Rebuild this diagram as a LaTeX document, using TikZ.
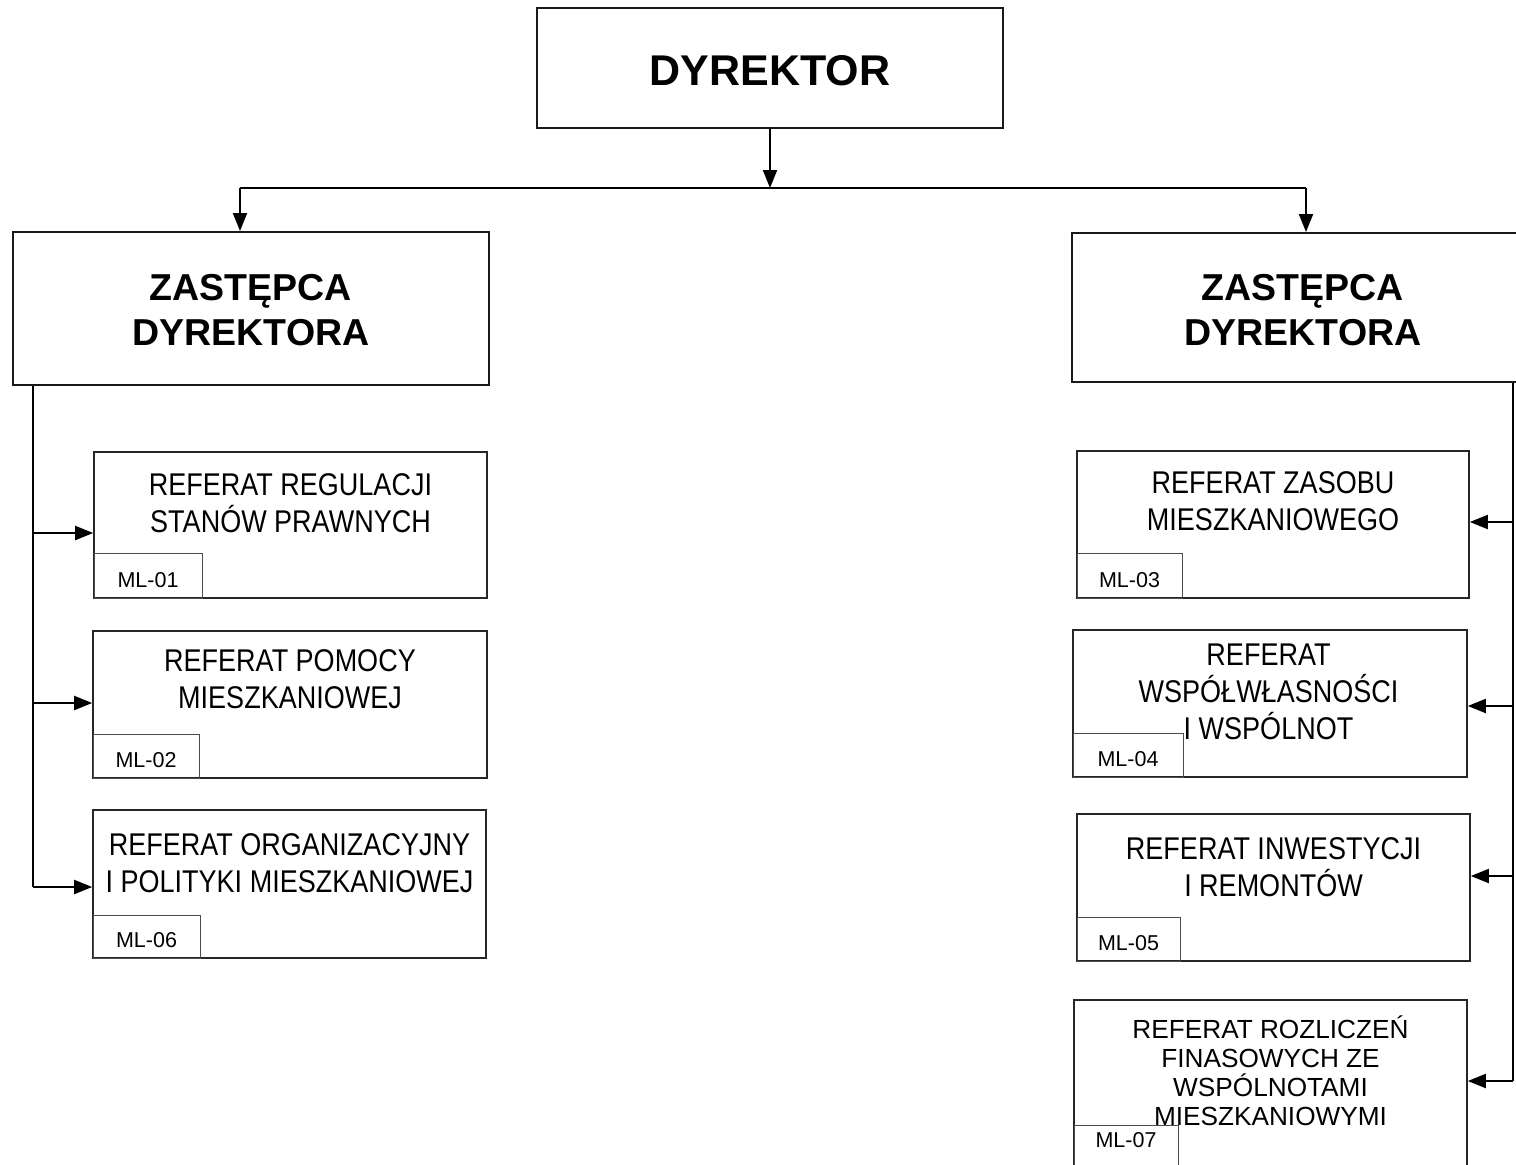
\documentclass[tikz,border=0pt]{standalone}
\usepackage{fontspec}
\setmainfont{Liberation Sans}
\newfontfamily\narrowfont[FakeStretch=0.86]{Liberation Sans}
\usetikzlibrary{arrows.meta,fit,calc}
\newcommand\st{\vrule height 1em depth 1em width 0pt\relax}
\newcommand\tightls{\lineskiplimit=-100pt\relax}
\newcommand\bfont{\bfseries\fontsize{37.5}{45}\selectfont\tightls}
\newcommand\nfont{\narrowfont\fontsize{31.4}{37}\selectfont\tightls}
\newcommand\pfont{\fontsize{26.2}{29}\selectfont\tightls}
\tikzset{
  conn/.style={line width=2pt, draw=black},
  arr/.style={conn, -{Triangle[length=18pt,width=14pt]}},
  topbox/.style={draw=black!90, line width=2.4pt, inner sep=0pt},
  zbox/.style={draw=black!90, line width=2pt, inner sep=0pt},
  rbox/.style={draw=black!85, line width=1.6pt, inner sep=0pt},
  sbox/.style={draw=black!70, line width=1pt, inner sep=0pt},
  mltxt/.style={inner sep=0pt, anchor=base, font={\fontsize{21.5}{23}\selectfont}},
  btxt/.style={inner sep=0pt, align=center, font={\bfont}},
  ntxt/.style={inner sep=0pt, align=center, font={\nfont}},
  ptxt/.style={inner sep=0pt, align=center, font={\pfont}},
}
\begin{document}
\begin{tikzpicture}[x=1pt,y=1pt]
\useasboundingbox (0,0) rectangle (1516,-1165);
\clip (0,0) rectangle (1516,-1165);
\fill[white] (0,0) rectangle (1516,-1165);

% boxes
\node[topbox, fit={(537,-8) (1003,-128)}] (d) {};
\node[zbox, fit={(13,-232) (489,-385)}] (z1) {};
\node[zbox, fit={(1072,-233) (1540,-382)}] (z2) {};

\node[rbox, fit={(94,-452) (487,-598)}] (m1) {};
\node[rbox, fit={(93,-631) (487,-778)}] (m2) {};
\node[rbox, fit={(93,-810) (486,-958)}] (m6) {};
\node[rbox, fit={(1077,-451) (1469,-598)}] (m3) {};
\node[rbox, fit={(1073,-630) (1467,-777)}] (m4) {};
\node[rbox, fit={(1077,-814) (1470,-961)}] (m5) {};
\node[rbox, fit={(1074,-1000) (1467,-1171)}] (m7) {};

\node[sbox, fit={(94,-553) (202,-598)}] (s1) {};
\node[sbox, fit={(93,-734) (199,-778)}] (s2) {};
\node[sbox, fit={(93,-915) (200,-958)}] (s6) {};
\node[sbox, fit={(1077,-553) (1182,-598)}] (s3) {};
\node[sbox, fit={(1073,-733) (1183,-777)}] (s4) {};
\node[sbox, fit={(1077,-917) (1180,-961)}] (s5) {};
\node[sbox, fit={(1074,-1125) (1178,-1171)}] (s7) {};

\node[mltxt] (l1) at ([yshift=11pt]s1.south) {ML-01};
\node[mltxt] (l2) at ([yshift=11pt]s2.south) {ML-02};
\node[mltxt] (l6) at ([yshift=11pt]s6.south) {ML-06};
\node[mltxt] (l3) at ([yshift=11pt]s3.south) {ML-03};
\node[mltxt] (l4) at ([yshift=11pt]s4.south) {ML-04};
\node[mltxt] (l5) at ([yshift=11pt]s5.south) {ML-05};
\node[mltxt] (l7) at ([yshift=24pt]s7.south) {ML-07};

% texts
\node[btxt, font={\bfseries\fontsize{43}{50}\selectfont}] (t0) at ([yshift=-17pt]d.center) {\st DYREKTOR};
\node[btxt] (tz1) at ([yshift=-14pt]z1.center) {\st ZASTĘPCA\\\st DYREKTORA};
\node[btxt] (tz2) at ([xshift=-3pt,yshift=-15pt]z2.center) {\st ZASTĘPCA\\\st DYREKTORA};

\node[ntxt] (t1) at ([yshift=11pt]m1.center) {\st REFERAT REGULACJI\\\st STANÓW PRAWNYCH};
\node[ntxt] (t2) at ([yshift=14.5pt]m2.center) {\st REFERAT POMOCY\\\st MIESZKANIOWEJ};
\node[ntxt] (t6) at ([yshift=10pt]m6.center) {\st REFERAT ORGANIZACYJNY\\\st I POLITYKI MIESZKANIOWEJ};
\node[ntxt] (t3) at ([yshift=13pt]m3.center) {\st REFERAT ZASOBU\\\st MIESZKANIOWEGO};
\node[ntxt] (t4) at ([xshift=-1.5pt,yshift=1pt]m4.center) {\st REFERAT\\\st WSPÓŁWŁASNOŚCI\\\st I WSPÓLNOT};
\node[ntxt] (t5) at ([yshift=9.5pt]m5.center) {\st REFERAT INWESTYCJI\\\st I REMONTÓW};
\node[ptxt] (t7) at ([yshift=4pt]m7.center) {\st REFERAT ROZLICZEŃ\\\st FINASOWYCH ZE\\\st WSPÓLNOTAMI\\\st MIESZKANIOWYMI};

% connectors: top
\coordinate (bus) at (0,-188);
\coordinate (za) at ([xshift=-11pt]z1.north);
\draw[arr] (d.south) -- (d.south |- bus);
\draw[conn] (za |- bus) -- (z2.north |- bus);
\draw[arr] (za |- bus) -- (za);
\draw[arr] (z2.north |- bus) -- (z2.north);

% left trunk
\coordinate (lb) at (33,0);
\coordinate (a1) at ([yshift=-8pt]m1.west);
\coordinate (a2) at ([yshift=1.5pt]m2.west);
\coordinate (a6) at ([yshift=-3pt]m6.west);
\draw[conn] (z1.south -| lb) -- (lb |- a6);
\draw[arr] (lb |- a1) -- (a1);
\draw[arr] (lb |- a2) -- (a2);
\draw[arr] (lb |- a6) -- (a6);

% right trunk
\coordinate (rb) at (1513,0);
\coordinate (a3) at ([yshift=2.5pt]m3.east);
\coordinate (a4) at ([yshift=-2.5pt]m4.east);
\coordinate (a5) at ([yshift=11.5pt]m5.east);
\coordinate (a7) at ([yshift=4.5pt]m7.east);
\draw[conn] (z2.south -| rb) -- (rb |- a7);
\draw[arr] (rb |- a3) -- (a3);
\draw[arr] (rb |- a4) -- (a4);
\draw[arr] (rb |- a5) -- (a5);
\draw[arr] (rb |- a7) -- (a7);
\end{tikzpicture}
\end{document}
